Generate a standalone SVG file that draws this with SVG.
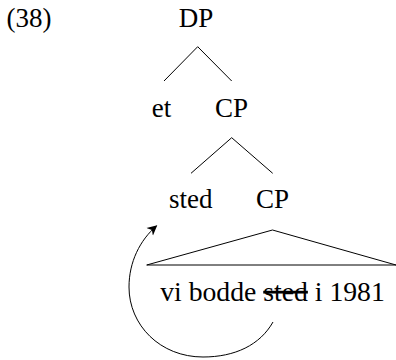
<svg xmlns="http://www.w3.org/2000/svg" width="396" height="360" viewBox="0 0 396 360">
<style>
text { font-family: "Liberation Serif", "Times New Roman", serif; font-size: 27px; fill: #000; text-anchor: middle; }
.edge { stroke: #000; stroke-width: 1; fill: none; }
</style>
<defs>
<marker id="arr" markerWidth="12" markerHeight="12" refX="9" refY="5" orient="auto" markerUnits="userSpaceOnUse" viewBox="0 0 12 10">
<path d="M0,0 L10,5 L0,10 L3,5 Z" fill="#000"/>
</marker>
</defs>
<rect width="396" height="360" fill="#fff"/>
<text x="29" y="27">(38)</text>
<g id="DP"><text x="196" y="27">DP</text></g>
<g id="et"><text x="161.5" y="117">et</text></g>
<g id="CP1"><text x="231.5" y="117">CP</text></g>
<g id="sted"><text x="190.8" y="208.3">sted</text></g>
<g id="CP2"><text x="272.5" y="208.3">CP</text></g>
<g id="leaf">
<polygon class="edge" points="272.5,230 146.7,265 396,265"/>
<text x="272.5" y="300.5" style="font-size:27.7px">vi bodde <tspan text-decoration="line-through">sted</tspan> i 1981</text>
</g>
<g id="connectors">
<line class="edge" x1="197.7" y1="46.7" x2="164" y2="81"/>
<line class="edge" x1="197.7" y1="46.7" x2="231.7" y2="81"/>
<line class="edge" x1="231.7" y1="137.7" x2="191" y2="173.3"/>
<line class="edge" x1="231.7" y1="137.7" x2="272.7" y2="173.3"/>
<path class="edge" d="M273,322 C260,345 235,357 203,357 C160,357 129,325 129,287 C129,262 140,240 156.5,226" marker-end="url(#arr)"/>
</g>
</svg>
